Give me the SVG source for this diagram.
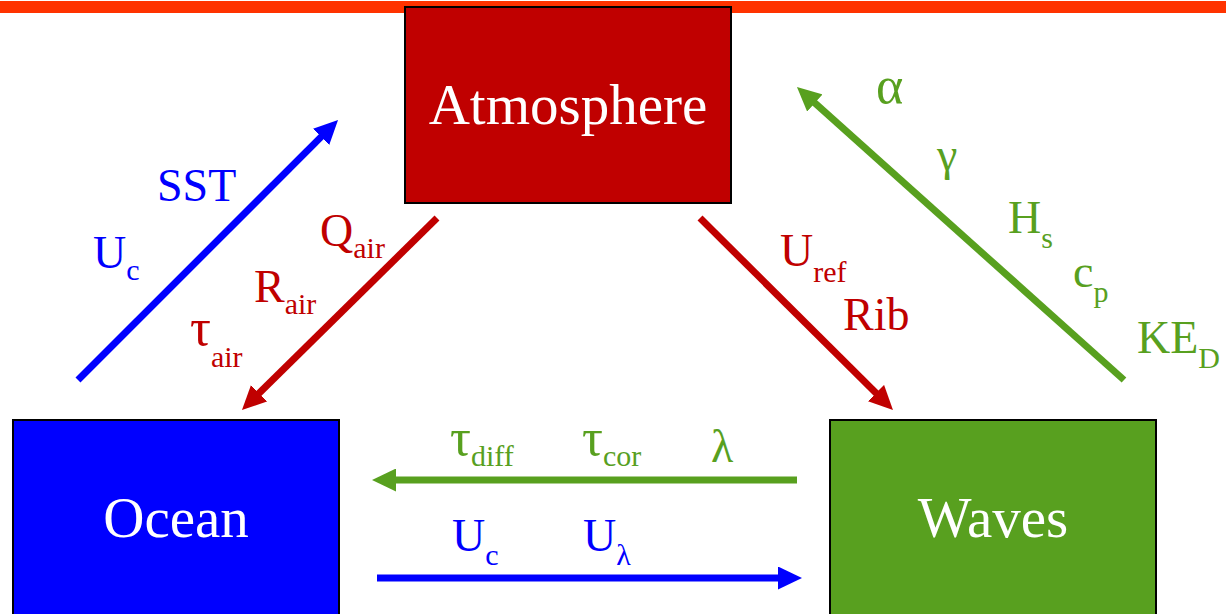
<svg xmlns="http://www.w3.org/2000/svg" width="1226" height="614" viewBox="0 0 1226 614">
<style>
.box{stroke:#000;stroke-width:2}
.name{font-family:"Liberation Serif","Times New Roman",serif;font-size:57px;fill:#fff;text-anchor:middle}
.lbl{font-family:"Liberation Serif","Times New Roman",serif;font-size:46px}
.sub{font-size:30px}
.gk{font-size:52px}
.r{fill:#c00000}.b{fill:#0000ff}.g{fill:#58a01f}
.ln{stroke-width:7;fill:none}
</style>
<defs>
<marker id="mb" markerUnits="userSpaceOnUse" markerWidth="24" markerHeight="23" refX="5" refY="11.5" orient="auto"><path d="M0,0 L24,11.5 L0,23 z" fill="#0000ff"/></marker>
<marker id="mr" markerUnits="userSpaceOnUse" markerWidth="24" markerHeight="23" refX="5" refY="11.5" orient="auto"><path d="M0,0 L24,11.5 L0,23 z" fill="#c00000"/></marker>
<marker id="mg" markerUnits="userSpaceOnUse" markerWidth="24" markerHeight="23" refX="5" refY="11.5" orient="auto"><path d="M0,0 L24,11.5 L0,23 z" fill="#58a01f"/></marker>
</defs>
<rect x="0" y="1" width="1226" height="12" fill="#ff3300"/>
<g id="atmosphere"><rect class="box" x="405" y="7" width="326" height="196" fill="#c00000"/><text class="name" x="568" y="124">Atmosphere</text></g>
<g id="ocean"><rect class="box" x="13" y="420" width="326" height="200" fill="#0000ff"/><text class="name" x="176" y="537">Ocean</text></g>
<g id="waves"><rect class="box" x="830" y="420" width="326" height="200" fill="#58a01f"/><text class="name" x="993" y="537">Waves</text></g>
<g id="connectors">
<line class="ln" stroke="#0000ff" x1="78" y1="380" x2="324.6" y2="133.4" marker-end="url(#mb)"/>
<line class="ln" stroke="#c00000" x1="437" y1="218" x2="255.5" y2="396.7" marker-end="url(#mr)"/>
<line class="ln" stroke="#c00000" x1="700" y1="218" x2="879.5" y2="396.6" marker-end="url(#mr)"/>
<line class="ln" stroke="#58a01f" x1="1124" y1="380" x2="811.1" y2="99.7" marker-end="url(#mg)"/>
<line class="ln" stroke="#58a01f" x1="797" y1="480" x2="391" y2="480" marker-end="url(#mg)"/>
<line class="ln" stroke="#0000ff" x1="377" y1="578" x2="783" y2="578" marker-end="url(#mb)"/>
</g>
<g id="labels" class="lbl">
<text class="b" x="157" y="201">SST</text>
<text class="b" x="93" y="268">U<tspan class="sub" dy="12">c</tspan></text>
<text class="r" x="320" y="246">Q<tspan class="sub" dy="12">air</tspan></text>
<text class="r" x="254" y="302">R<tspan class="sub" dy="12">air</tspan></text>
<text class="r" x="190" y="345"><tspan class="gk">τ</tspan><tspan class="sub" dy="22">air</tspan></text>
<text class="r" x="780" y="266">U<tspan class="sub" dy="16">ref</tspan></text>
<text class="r" x="843" y="330">Rib</text>
<text class="g gk" x="876" y="103">α</text>
<text class="g" x="937" y="170">γ</text>
<text class="g" x="1008" y="233">H<tspan class="sub" dy="15">s</tspan></text>
<text class="g" x="1073" y="287">c<tspan class="sub" dy="15">p</tspan></text>
<text class="g" x="1137" y="353">KE<tspan class="sub" dy="15">D</tspan></text>
<text class="g" x="450" y="455"><tspan class="gk">τ</tspan><tspan class="sub" dy="11">diff</tspan></text>
<text class="g" x="582" y="455"><tspan class="gk">τ</tspan><tspan class="sub" dy="11">cor</tspan></text>
<text class="g" x="711" y="462">λ</text>
<text class="b" x="452" y="551">U<tspan class="sub" dy="14">c</tspan></text>
<text class="b" x="583" y="551">U<tspan class="sub" dy="14">λ</tspan></text>
</g>
</svg>
